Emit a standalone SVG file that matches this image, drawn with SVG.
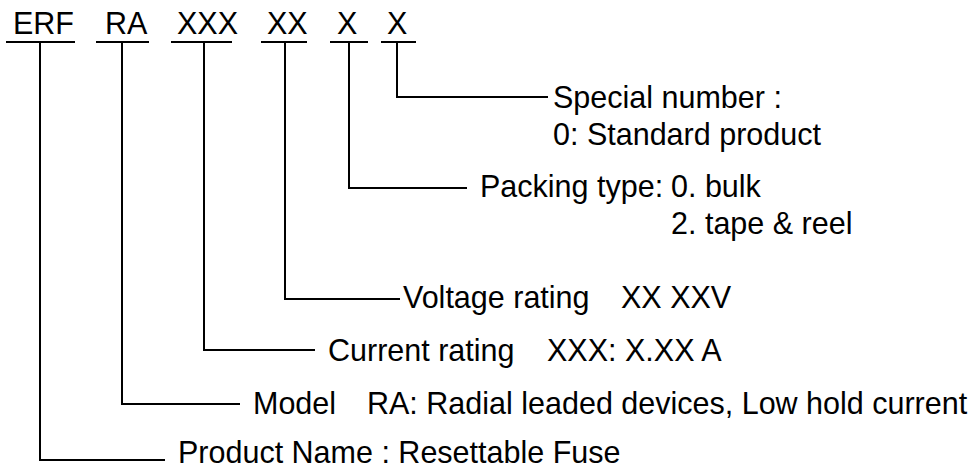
<svg xmlns="http://www.w3.org/2000/svg" width="974" height="470" viewBox="0 0 974 470">
<style>
  text { font-family: "Liberation Sans", Arial, sans-serif; font-size: 30.5px; fill: #000; }
  .ln { stroke: #000; stroke-width: 2; fill: none; }
</style>
<rect width="974" height="470" fill="#fff"/>
<g id="code">
  <text x="13" y="34">ERF</text>
  <text x="105" y="34">RA</text>
  <text x="177" y="34">XXX</text>
  <text x="267" y="34">XX</text>
  <text x="337" y="34">X</text>
  <text x="387" y="34">X</text>
  <path class="ln" d="M6 42H75M96 42H149M171 42H232M261 42H307M330 42H368M381 42H416"/>
</g>
<g id="connectors">
  <path class="ln" d="M397 42V97H548"/>
  <path class="ln" d="M349 42V188H467"/>
  <path class="ln" d="M285 42V299H400"/>
  <path class="ln" d="M204 42V350H315"/>
  <path class="ln" d="M122 42V404H240"/>
  <path class="ln" d="M40 42V460H165"/>
</g>
<g id="special">
  <text x="553" y="108">Special number :</text>
  <text x="553" y="145">0: Standard product</text>
</g>
<g id="packing">
  <text x="480" y="197">Packing type:</text>
  <text x="671" y="197">0. bulk</text>
  <text x="671" y="234">2. tape &amp; reel</text>
</g>
<g id="voltage">
  <text x="403" y="308">Voltage rating</text>
  <text x="621" y="308">XX XXV</text>
</g>
<g id="current">
  <text x="328" y="361">Current rating</text>
  <text x="547" y="361">XXX: X.XX A</text>
</g>
<g id="model">
  <text x="253" y="414">Model</text>
  <text x="367" y="414">RA: Radial leaded devices, Low hold current</text>
</g>
<g id="product">
  <text x="178" y="463">Product Name : Resettable Fuse</text>
</g>
</svg>
